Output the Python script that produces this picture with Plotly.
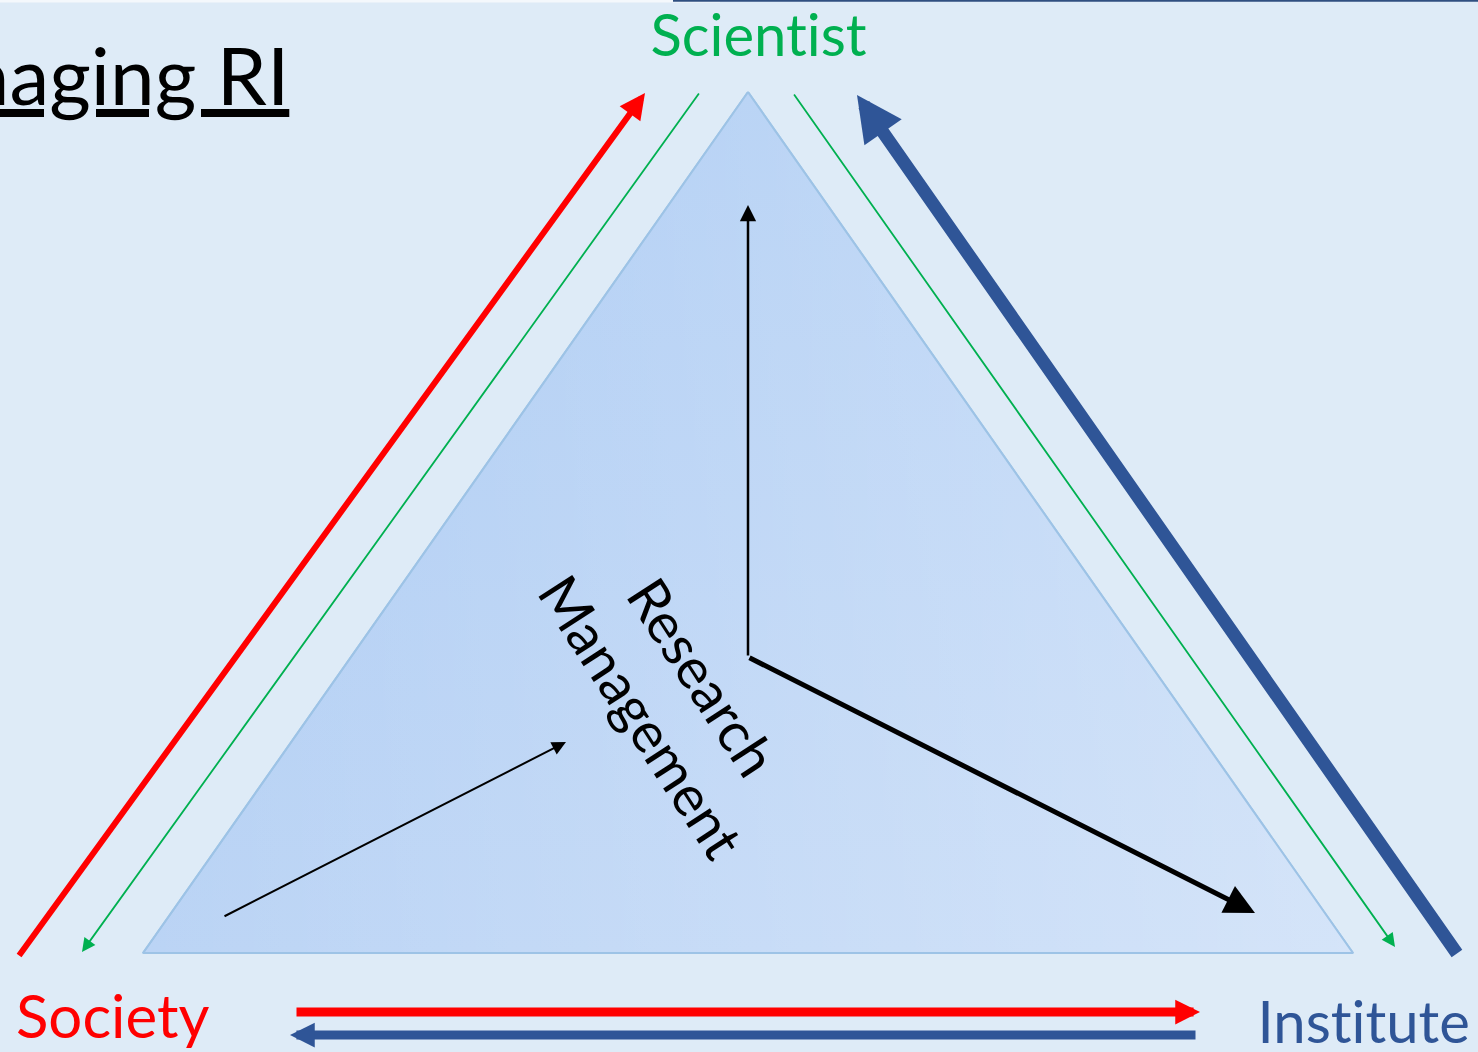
import plotly.graph_objects as go

# ---- data ----
node_names = ["Scientist", "Society", "Institute"]
node_colors = ["#00B050", "#FF0000", "#2F5597"]
node_x = [758, 112, 1363]
node_y = [33, 1015, 1020]

title_text = "Managing RI"
center_text = "Research<br>Management"

triangle_x = [748, 143, 1353, 748]
triangle_y = [92, 953, 953, 92]

# arrows: (tail_x, tail_y, head_x, head_y)
arrow_tail_x = [18, 700, 793, 1458, 295, 1197, 748, 748, 223]
arrow_tail_y = [957, 92, 93, 955, 1012, 1035, 657, 657, 917]
arrow_head_x = [645, 82, 1395, 857, 1200, 290, 748, 1255, 566]
arrow_head_y = [93, 952, 947, 95, 1012, 1035, 205, 913, 742]
arrow_colors = ["#FF0000", "#00B050", "#00B050", "#2F5597", "#FF0000", "#2F5597",
                "#000000", "#000000", "#000000"]
arrow_widths = [6, 1.8, 1.8, 13, 9, 9, 2.5, 5, 2]
arrow_sizes = [0.85, 1.5, 1.5, 0.7, 0.55, 0.55, 1.3, 1.2, 1.4]

fig = go.Figure()

# triangle base with vertical gradient
fig.add_trace(go.Scatter(
    x=triangle_x, y=triangle_y, mode="lines", fill="toself",
    line=dict(color="#9DC3E6", width=2),
    fillgradient=dict(type="vertical", start=92, stop=953,
                      colorscale=[[0, "#AACAF3"], [1, "#BBD4F5"]]),
    hoverinfo="skip", showlegend=False))
# overlay horizontal lightening
fig.add_trace(go.Scatter(
    x=triangle_x, y=triangle_y, mode="lines", fill="toself",
    line=dict(color="rgba(157,195,230,1)", width=2),
    fillgradient=dict(type="horizontal", start=143, stop=1353,
                      colorscale=[[0, "rgba(255,255,255,0)"], [1, "rgba(255,255,255,0.38)"]]),
    hoverinfo="skip", showlegend=False))

annotations = []
for tx, ty, hx, hy, c, w, s in zip(arrow_tail_x, arrow_tail_y, arrow_head_x, arrow_head_y,
                                   arrow_colors, arrow_widths, arrow_sizes):
    annotations.append(dict(
        x=hx, y=hy, ax=tx, ay=ty, xref="x", yref="y", axref="x", ayref="y",
        text="", showarrow=True, arrowhead=2, arrowsize=s, arrowwidth=w,
        arrowcolor=c, standoff=0, startstandoff=0))

FONT = "Lato"
sizes = [58, 60, 58]
for name, col, x, y, fs in zip(node_names, node_colors, node_x, node_y, sizes):
    annotations.append(dict(x=x, y=y, xref="x", yref="y", text=name, showarrow=False,
                            font=dict(family=FONT, size=fs, color=col),
                            xanchor="center", yanchor="middle", borderpad=0))

annotations.append(dict(x=290, y=74, xref="x", yref="y", text="<u>" + title_text + "</u>",
                        showarrow=False, font=dict(family=FONT, size=80, color="#000000"),
                        xanchor="right", yanchor="middle", borderpad=0))

annotations.append(dict(x=672, y=696, xref="x", yref="y", text=center_text, showarrow=False,
                        textangle=57, font=dict(family=FONT, size=56, color="#000000"),
                        xanchor="center", yanchor="middle", borderpad=0, align="center"))

shapes = [
    dict(type="rect", xref="x", yref="y", x0=0, x1=720, y0=0, y1=2.5,
         fillcolor="#F4F8FC", line=dict(width=0), layer="below"),
    dict(type="line", xref="x", yref="y", x0=673, x1=1478, y0=0.8, y1=0.8,
         line=dict(color="#2F4F80", width=2)),
]

fig.update_layout(
    width=1478, height=1052,
    margin=dict(l=0, r=0, t=0, b=0),
    paper_bgcolor="#DEEBF7", plot_bgcolor="#DEEBF7",
    xaxis=dict(range=[0, 1478], visible=False, fixedrange=True),
    yaxis=dict(range=[1052, 0], visible=False, fixedrange=True),
    annotations=annotations, shapes=shapes, showlegend=False,
)

fig.write_html(
    "out.html", config={"displayModeBar": False},
    post_script=("document.body.style.margin='0';document.body.style.overflow='hidden';"
                 "var st=document.createElement('style');"
                 "st.textContent='text, tspan{font-variant-ligatures:none !important;"
                 "font-feature-settings:\"liga\" 0, \"clig\" 0 !important;}';"
                 "document.head.appendChild(st);"))
